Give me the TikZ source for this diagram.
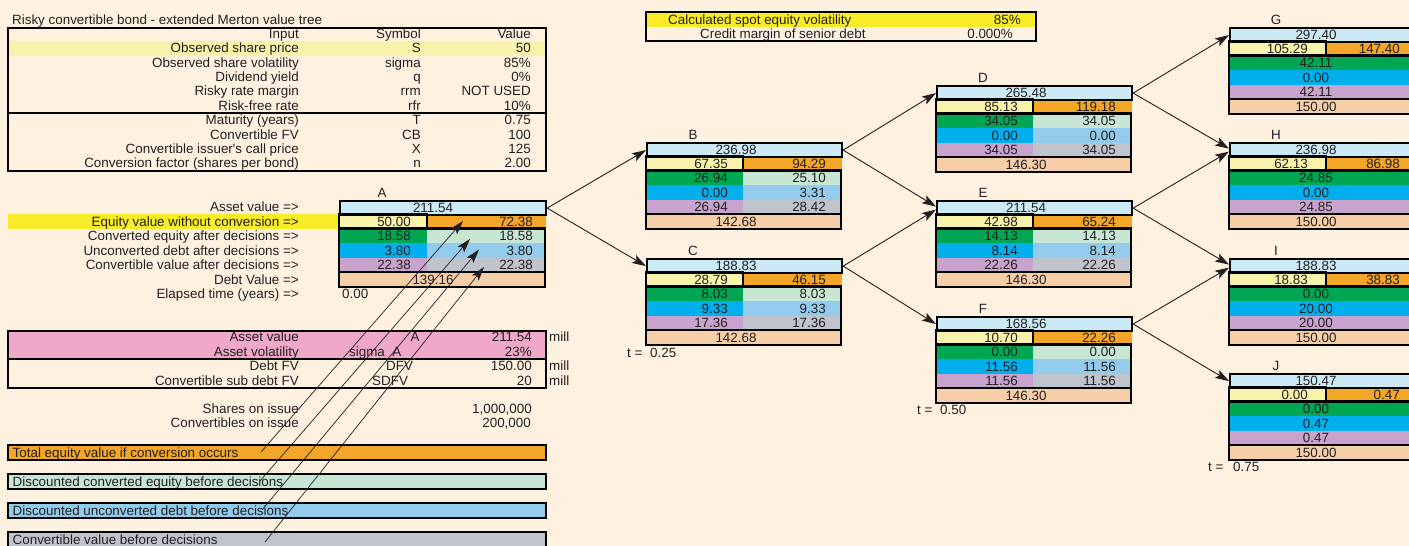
\documentclass[tikz,border=0pt]{standalone}
\usepackage{fontspec}
\setmainfont{Liberation Sans}[Ligatures=TeXOff]
\usetikzlibrary{arrows.meta}

\definecolor{paper}{RGB}{254,241,223}
\definecolor{ink}{RGB}{35,31,32}
\definecolor{assetblue}{RGB}{204,234,246}
\definecolor{paleyellow}{RGB}{247,243,170}
\definecolor{brightyellow}{RGB}{248,236,40}
\definecolor{convorange}{RGB}{243,166,40}
\definecolor{eqgreen}{RGB}{0,166,81}
\definecolor{palegreen}{RGB}{200,230,212}
\definecolor{debtcyan}{RGB}{0,175,236}
\definecolor{palecyan}{RGB}{146,203,236}
\definecolor{cvpurple}{RGB}{200,163,205}
\definecolor{cvgray}{RGB}{191,195,203}
\definecolor{debtpeach}{RGB}{246,206,168}
\definecolor{assetpink}{RGB}{240,168,200}

% text placed by row centre: right-aligned, left-aligned, centred
\newcounter{lbl}
\newcommand\cellR[3]{\stepcounter{lbl}\node[cell text,anchor=base east] (lbl\number\value{lbl}) at (#1,#2+4.7) {#3};}
\newcommand\cellL[3]{\stepcounter{lbl}\node[cell text,anchor=base west] (lbl\number\value{lbl}) at (#1,#2+4.7) {#3};}
\newcommand\cellC[3]{\stepcounter{lbl}\node[cell text,anchor=base] (lbl\number\value{lbl}) at (#1,#2+4.7) {#3};}

\begin{document}
\begin{tikzpicture}[x=1pt,y=-1pt,
  font=\fontsize{13.4}{15}\selectfont,
  cell text/.style={inner sep=0pt,text=ink},
  frame/.style={draw=black,line width=2.2pt},
  assetcell/.style={draw=black,line width=2.2pt,fill=assetblue,inner sep=0pt,anchor=north west,minimum height=14pt},
  link/.style={draw=ink,line width=0.9pt,-{Stealth[length=14pt,width=9pt,inset=3pt]}},
  pointer/.style={draw=ink,line width=0.7pt,-{Stealth[length=14pt,width=8.5pt,inset=3pt]}}]
\useasboundingbox (0,0) rectangle (1409,546);
\fill[paper] (0,0) rectangle (1409,546);

% ---------------- input table ----------------
\cellL{12}{19.5}{Risky convertible bond - extended Merton value tree}
\fill[paleyellow] (8,41) rectangle (546,56);
\draw[frame] (8,28) rectangle (546,171);
\draw[frame] (8,113) -- (546,113);
\foreach \ri/\qa/\qb/\qc in {0/Input/Symbol/Value,
  1/Observed share price/S/50,
  2/Observed share volatility/sigma/85\%,
  3/Dividend yield/q/0\%,
  4/Risky rate margin/rrm/NOT USED,
  5/Risk-free rate/rfr/10\%,
  6/Maturity (years)/T/0.75,
  7/Convertible FV/CB/100,
  8/Convertible issuer's call price/X/125,
  9/Conversion factor (shares per bond)/n/2.00}
{\cellR{299}{33.5+14.4*\ri}{\qa}\cellR{421}{33.5+14.4*\ri}{\qb}\cellR{531}{33.5+14.4*\ri}{\qc}}

% ---------------- calibration box ----------------
\fill[brightyellow] (646,12) rectangle (1036,27);
\draw[frame] (646,12) rectangle (1036,41);
\cellL{668}{19.5}{Calculated spot equity volatility}
\cellR{1021}{19.5}{85\%}
\cellL{700}{34}{Credit margin of senior debt}
\cellR{1013}{34}{0.000\%}

% ---------------- firm values table ----------------
\fill[assetpink] (8,331) rectangle (546,359);
\draw[frame] (8,331) rectangle (546,359);
\draw[frame] (8,359) rectangle (546,388);
\cellR{299}{337}{Asset value}
\cellC{415}{337}{A}
\cellR{532}{337}{211.54}
\cellL{549}{337}{mill}
\cellR{299}{352}{Asset volatility}
\cellL{349}{352}{sigma\ \ A}
\cellR{532}{352}{23\%}
\cellR{299}{366}{Debt FV}
\cellL{386}{366}{DFV}
\cellR{532}{366}{150.00}
\cellL{549}{366}{mill}
\cellR{299}{380.5}{Convertible sub debt FV}
\cellL{372}{380.5}{SDFV}
\cellR{532}{380.5}{20}
\cellL{549}{380.5}{mill}
\cellR{299}{409}{Shares on issue}
\cellR{532}{409}{1,000,000}
\cellR{299}{423}{Convertibles on issue}
\cellR{531}{423}{200,000}

% ---------------- legend bars ----------------
\foreach \yy/\cc/\qtext in {445/convorange/Total equity value if conversion occurs,
  474/palegreen/Discounted converted equity before decisions,
  503/palecyan/Discounted unconverted debt before decisions}
{\draw[frame,fill=\cc] (8,\yy) rectangle (546,\yy+15);
 \cellL{12.5}{\yy+7.8}{\qtext}}
\draw[frame,fill=cvgray] (8,532) rectangle (546,549);
\cellL{12.5}{539.5}{Convertible value before decisions}

% ---------------- row captions of the tree ----------------
\fill[brightyellow] (8,214) rectangle (339,229);
\cellR{299}{207}{Asset value =>}
\cellR{299}{221.5}{Equity value without conversion =>}
\cellR{299}{236}{Converted equity after decisions =>}
\cellR{299}{250.5}{Unconverted debt after decisions =>}
\cellR{299}{265}{Convertible value after decisions =>}
\cellR{299}{279.5}{Debt Value =>}
\cellR{299}{294}{Elapsed time (years) =>}
\cellL{342}{294}{0.00}

% ---------------- root node A ----------------
\fill[paleyellow] (339,214) rectangle (427,228.5);
\fill[convorange] (427,214) rectangle (546,228.5);
\fill[eqgreen] (339,228.5) rectangle (427,243);
\fill[palegreen] (427,228.5) rectangle (545,243);
\fill[debtcyan] (339,243) rectangle (427,257.5);
\fill[palecyan] (427,243) rectangle (545,257.5);
\fill[cvpurple] (339,257.5) rectangle (427,272);
\fill[cvgray] (427,257.5) rectangle (545,272);
\fill[debtpeach] (339,272) rectangle (545,287);
\node[assetcell,minimum width=206pt] (A) at (339,200) {};
\draw[frame] (339,214) rectangle (427,228.5);
\draw[frame] (339,228.5) rectangle (545,272);
\draw[frame] (339,272) rectangle (545,287);
\cellC{382}{192.5}{A}
\cellC{433}{207.3}{211.54}
\cellR{411}{221.5}{50.00}\cellR{533}{221.5}{72.38}
\cellR{411}{236}{18.58}\cellR{533}{236}{18.58}
\cellR{411}{250.5}{3.80}\cellR{533}{250.5}{3.80}
\cellR{411}{265}{22.38}\cellR{533}{265}{22.38}
\cellC{433}{279.8}{139.16}

% ---------------- intermediate nodes B to F ----------------
\foreach \qN/\qL/\qT/\qa/\qb/\qc/\qd/\qe/\qf/\qg/\qh/\qi/\qj in {
  B/646/142/236.98/67.35/94.29/26.94/25.10/0.00/3.31/26.94/28.42/142.68,
  C/646/258/188.83/28.79/46.15/8.03/8.03/9.33/9.33/17.36/17.36/142.68,
  D/936/85/265.48/85.13/119.18/34.05/34.05/0.00/0.00/34.05/34.05/146.30,
  E/936/200/211.54/42.98/65.24/14.13/14.13/8.14/8.14/22.26/22.26/146.30,
  F/936/316/168.56/10.70/22.26/0.00/0.00/11.56/11.56/11.56/11.56/146.30}
{
  \fill[paleyellow] (\qL,\qT+14) rectangle ++(97,14.5);
  \fill[convorange] (\qL+97,\qT+14) rectangle ++(99,14.5);
  \fill[eqgreen] (\qL,\qT+28.5) rectangle ++(97,14.5);
  \fill[palegreen] (\qL+97,\qT+28.5) rectangle ++(98,14.5);
  \fill[debtcyan] (\qL,\qT+43) rectangle ++(97,14.5);
  \fill[palecyan] (\qL+97,\qT+43) rectangle ++(98,14.5);
  \fill[cvpurple] (\qL,\qT+57.5) rectangle ++(97,14.5);
  \fill[cvgray] (\qL+97,\qT+57.5) rectangle ++(98,14.5);
  \fill[debtpeach] (\qL,\qT+72) rectangle ++(195,15);
  \node[assetcell,minimum width=195pt] (\qN) at (\qL,\qT) {};
  \draw[frame] (\qL,\qT+14) rectangle ++(97,14.5);
  \draw[frame] (\qL,\qT+28.5) rectangle ++(195,43.5);
  \draw[frame] (\qL,\qT+72) rectangle ++(195,15);
  \cellC{\qL+47}{\qT-7.5}{\qN}
  \cellC{\qL+90}{\qT+7.3}{\qa}
  \cellR{\qL+82}{\qT+21.5}{\qb}\cellR{\qL+180}{\qT+21.5}{\qc}
  \cellR{\qL+82}{\qT+36}{\qd}\cellR{\qL+180}{\qT+36}{\qe}
  \cellR{\qL+82}{\qT+50.5}{\qf}\cellR{\qL+180}{\qT+50.5}{\qg}
  \cellR{\qL+82}{\qT+65}{\qh}\cellR{\qL+180}{\qT+65}{\qi}
  \cellC{\qL+90}{\qT+79.8}{\qj}
}

% ---------------- terminal nodes G to J ----------------
\foreach \qN/\qL/\qT/\qa/\qb/\qc/\qd/\qe/\qf/\qg in {
  G/1229/27/297.40/105.29/147.40/42.11/0.00/42.11/150.00,
  H/1229/142/236.98/62.13/86.98/24.85/0.00/24.85/150.00,
  I/1229/258/188.83/18.83/38.83/0.00/20.00/20.00/150.00,
  J/1229/373/150.47/0.00/0.47/0.00/0.47/0.47/150.00}
{
  \fill[paleyellow] (\qL,\qT+14) rectangle ++(97,14.5);
  \fill[convorange] (\qL+97,\qT+14) rectangle ++(110,14.5);
  \fill[eqgreen] (\qL,\qT+28.5) rectangle ++(200,14.5);
  \fill[debtcyan] (\qL,\qT+43) rectangle ++(200,14.5);
  \fill[cvpurple] (\qL,\qT+57.5) rectangle ++(200,14.5);
  \fill[debtpeach] (\qL,\qT+72) rectangle ++(200,15);
  \node[assetcell,minimum width=200pt] (\qN) at (\qL,\qT) {};
  \draw[frame] (\qL,\qT+14) rectangle ++(97,14.5);
  \draw[frame] (\qL,\qT+28.5) rectangle ++(200,43.5);
  \draw[frame] (\qL,\qT+72) rectangle ++(200,15);
  \cellC{\qL+47}{\qT-7.5}{\qN}
  \cellC{\qL+87}{\qT+7.3}{\qa}
  \cellR{\qL+79}{\qT+21.5}{\qb}\cellR{\qL+171}{\qT+21.5}{\qc}
  \cellC{\qL+87}{\qT+36}{\qd}
  \cellC{\qL+87}{\qT+50.5}{\qe}
  \cellC{\qL+87}{\qT+65}{\qf}
  \cellC{\qL+87}{\qT+79.8}{\qg}
}

% ---------------- time stamps ----------------
\cellL{627}{352.5}{t =}\cellL{650}{352.5}{0.25}
\cellL{917}{410}{t =}\cellL{940}{410}{0.50}
\cellL{1208}{467}{t =}\cellL{1233}{467}{0.75}

% ---------------- tree connectors ----------------
\draw[link] (A.east) -- (B.west);
\draw[link] (A.east) -- (C.west);
\draw[link] (B.east) -- (D.west);
\draw[link] (B.east) -- ([yshift=1.5pt]E.west);
\draw[link] (C.east) -- ([yshift=-1.5pt]E.west);
\draw[link] (C.east) -- (F.west);
\draw[link] (D.east) -- (G.west);
\draw[link] (D.east) -- ([yshift=1.5pt]H.west);
\draw[link] (E.east) -- ([yshift=-1.5pt]H.west);
\draw[link] (E.east) -- ([yshift=1.5pt]I.west);
\draw[link] (F.east) -- ([yshift=-1.5pt]I.west);
\draw[link] (F.east) -- (J.west);

% ---------------- legend pointers into node A ----------------
\coordinate (legTotal) at (261,452);
\coordinate (legConv) at (260,481);
\coordinate (legDebt) at (262,510);
\coordinate (legValue) at (265,542);
\coordinate (cellTotal) at (463,221);
\coordinate (cellConv) at (470,239);
\coordinate (cellDebt) at (479,249.5);
\coordinate (cellValue) at (484,267);
\draw[pointer] (legTotal) -- (cellTotal);
\draw[pointer] (legConv) -- (cellConv);
\draw[pointer] (legDebt) -- (cellDebt);
\draw[pointer] (legValue) -- (cellValue);
\end{tikzpicture}
\end{document}
